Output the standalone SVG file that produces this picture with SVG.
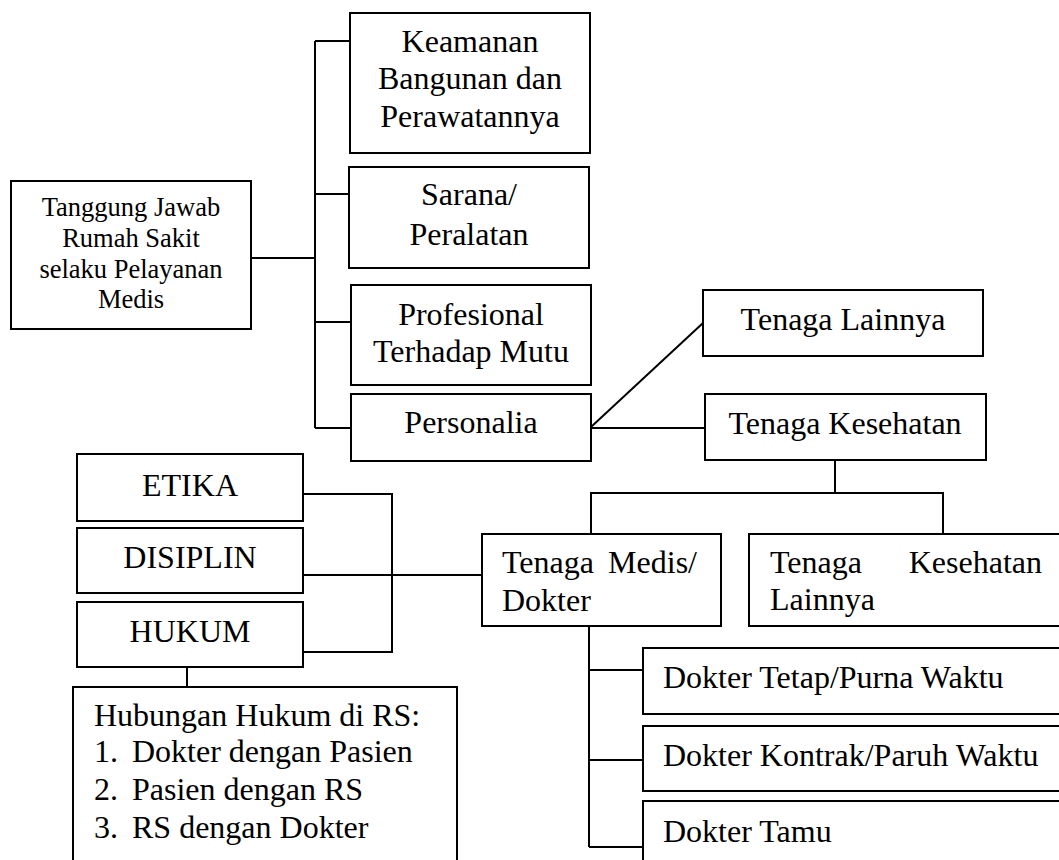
<svg xmlns="http://www.w3.org/2000/svg" width="1059" height="860" viewBox="0 0 1059 860">
<style>
rect{fill:#fff;stroke:#000;stroke-width:2}
.c line,.c polyline{stroke:#000;stroke-width:2;fill:none}
text{font-family:"Liberation Serif","Times New Roman",serif;font-size:32px;fill:#000}
.m{text-anchor:middle}
.s{font-size:26.5px}
</style>
<rect x="0" y="0" width="1059" height="860" style="stroke:none"/>
<g class="c" id="connectors">
<line x1="251" y1="258" x2="315" y2="258"/>
<line x1="315" y1="41" x2="315" y2="428"/>
<line x1="315" y1="41" x2="350" y2="41"/>
<line x1="315" y1="194" x2="349" y2="194"/>
<line x1="315" y1="322" x2="351" y2="322"/>
<line x1="315" y1="428" x2="351" y2="428"/>
<line x1="591" y1="427" x2="703" y2="323"/>
<line x1="591" y1="428" x2="705" y2="428"/>
<line x1="835" y1="460" x2="835" y2="493"/>
<polyline points="591,534 591,493 943,493 943,534"/>
<polyline points="303,494 392,494 392,652 303,652"/>
<line x1="303" y1="575" x2="482" y2="575"/>
<line x1="187" y1="667" x2="187" y2="687"/>
<line x1="589" y1="626" x2="589" y2="847"/>
<line x1="589" y1="670" x2="643" y2="670"/>
<line x1="589" y1="760" x2="643" y2="760"/>
<line x1="589" y1="847" x2="643" y2="847"/>
</g>
<g id="root"><rect x="11" y="181" width="240" height="148"/>
<text class="m s" x="131" y="216">Tanggung Jawab</text>
<text class="m s" x="131" y="247">Rumah Sakit</text>
<text class="m s" x="131" y="278">selaku Pelayanan</text>
<text class="m s" x="131" y="308">Medis</text></g>
<g id="keamanan"><rect x="350" y="13" width="240" height="140"/>
<text class="m" x="470" y="52">Keamanan</text>
<text class="m" x="470" y="89">Bangunan dan</text>
<text class="m" x="470" y="127">Perawatannya</text></g>
<g id="sarana"><rect x="349" y="167" width="240" height="101"/>
<text class="m" x="469" y="205">Sarana/</text>
<text class="m" x="469" y="245">Peralatan</text></g>
<g id="profesional"><rect x="351" y="285" width="240" height="100"/>
<text class="m" x="471" y="325">Profesional</text>
<text class="m" x="471" y="362">Terhadap Mutu</text></g>
<g id="personalia"><rect x="351" y="394" width="240" height="67"/>
<text class="m" x="471" y="433">Personalia</text></g>
<g id="tenaga-lainnya"><rect x="703" y="290" width="280" height="66"/>
<text class="m" x="843" y="330">Tenaga Lainnya</text></g>
<g id="tenaga-kesehatan"><rect x="705" y="394" width="281" height="66"/>
<text class="m" x="845" y="434">Tenaga Kesehatan</text></g>
<g id="tenaga-medis"><rect x="482" y="534" width="239" height="92"/>
<text x="502" y="573">Tenaga</text>
<text x="697" y="573" text-anchor="end">Medis/</text>
<text x="502" y="611">Dokter</text></g>
<g id="tenaga-kesehatan-lainnya"><rect x="749" y="534" width="330" height="92"/>
<text x="770" y="573">Tenaga</text>
<text x="1042" y="573" text-anchor="end">Kesehatan</text>
<text x="770" y="610">Lainnya</text></g>
<g id="etika"><rect x="77" y="454" width="226" height="67"/>
<text class="m" x="190" y="496">ETIKA</text></g>
<g id="disiplin"><rect x="77" y="528" width="226" height="65"/>
<text class="m" x="190" y="568">DISIPLIN</text></g>
<g id="hukum"><rect x="77" y="602" width="226" height="65"/>
<text class="m" x="190" y="642">HUKUM</text></g>
<g id="hubungan"><rect x="73" y="687" width="384" height="200"/>
<text x="94" y="726">Hubungan Hukum di RS:</text>
<text x="94" y="762">1.</text><text x="132" y="762">Dokter dengan Pasien</text>
<text x="94" y="800">2.</text><text x="132" y="800">Pasien dengan RS</text>
<text x="94" y="838">3.</text><text x="132" y="838">RS dengan Dokter</text></g>
<g id="dokter-tetap"><rect x="643" y="648" width="440" height="66"/>
<text x="663" y="688">Dokter Tetap/Purna Waktu</text></g>
<g id="dokter-kontrak"><rect x="643" y="726" width="440" height="65"/>
<text x="663" y="766">Dokter Kontrak/Paruh Waktu</text></g>
<g id="dokter-tamu"><rect x="643" y="801" width="440" height="90"/>
<text x="663" y="842">Dokter Tamu</text></g>
</svg>
